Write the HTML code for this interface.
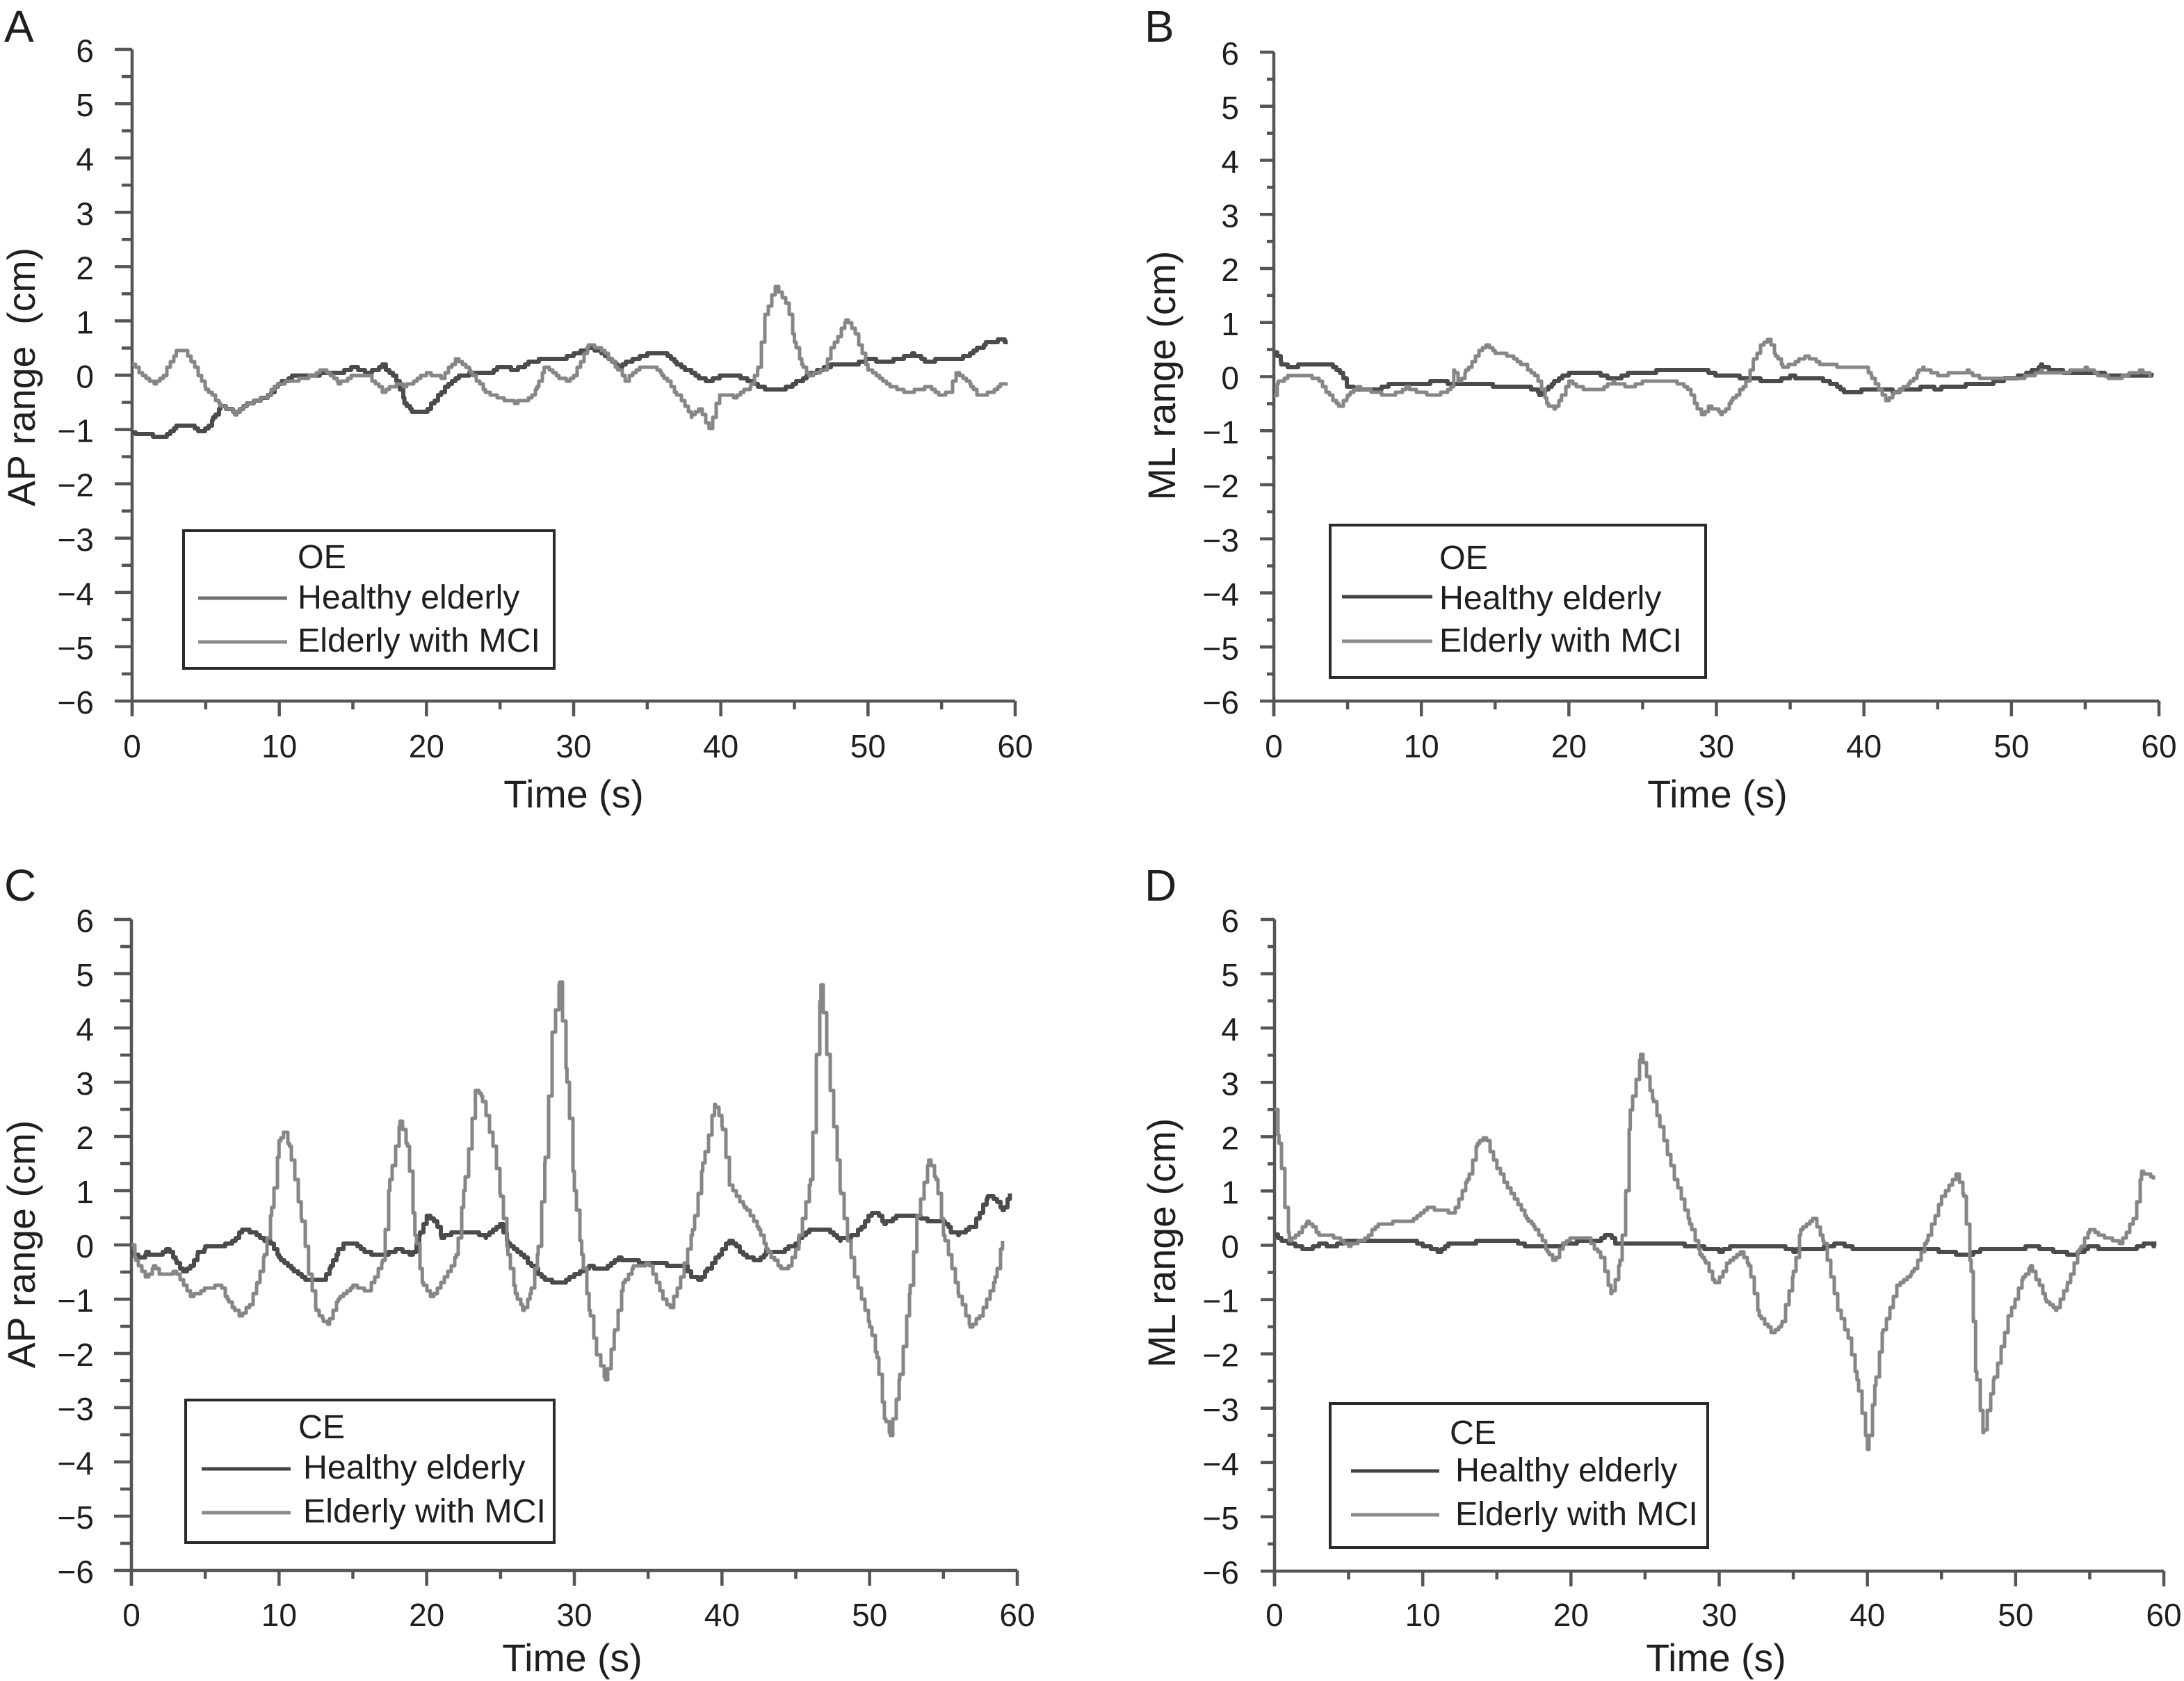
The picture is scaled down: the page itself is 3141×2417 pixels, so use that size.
<!DOCTYPE html>
<html lang="en">
<head>
<meta charset="utf-8">
<title>AP and ML range over time</title>
<style>
html,body{margin:0;padding:0;background:#fff;width:3141px;height:2417px;overflow:hidden}
svg{display:block}
text{font-family:"Liberation Sans",sans-serif;fill:#1f1f1f}
.letter{font-size:64px}
.title{font-size:55.5px;text-anchor:middle}
.leg{font-size:48.3px}
.tick{font-size:46px}
.box{fill:#fff;stroke:#2a2a2a;stroke-width:4}
</style>
</head>
<body>
<svg id="figure" xmlns="http://www.w3.org/2000/svg" width="3141" height="2417" viewBox="0 0 3141 2417">
  <rect width="3141" height="2417" fill="#fff"/>

  <g id="panel-a">
    <text class="letter" x="6" y="60">A</text>
    <text class="title" transform="translate(50,542) rotate(-90)" xml:space="preserve">AP range  (cm)</text>
    <text class="title" x="825" y="1161">Time (s)</text>
    <g>
      <rect class="box" x="264" y="763" width="533" height="198"/>
      <text class="leg" x="428" y="817">OE</text>
      <line x1="285" y1="860" x2="413" y2="860" stroke="#6f6f6f" stroke-width="5"/>
      <text class="leg" x="428" y="875">Healthy elderly</text>
      <line x1="285" y1="923" x2="413" y2="923" stroke="#8a8a8a" stroke-width="5"/>
      <text class="leg" x="428" y="937">Elderly with MCI</text>
    </g>
  </g>

  <g id="panel-b">
    <text class="letter" x="1646" y="60">B</text>
    <text class="title" transform="translate(1690,540) rotate(-90)">ML range (cm)</text>
    <text class="title" x="2470" y="1161">Time (s)</text>
    <g>
      <rect class="box" x="1913" y="755" width="540" height="219"/>
      <text class="leg" x="2070" y="818">OE</text>
      <line x1="1930" y1="858" x2="2060" y2="858" stroke="#444" stroke-width="5"/>
      <text class="leg" x="2070" y="876">Healthy elderly</text>
      <line x1="1930" y1="922" x2="2060" y2="922" stroke="#8a8a8a" stroke-width="5"/>
      <text class="leg" x="2070" y="937">Elderly with MCI</text>
    </g>
  </g>

  <g id="panel-c">
    <text class="letter" x="6" y="1295">C</text>
    <text class="title" transform="translate(50,1789) rotate(-90)">AP range (cm)</text>
    <text class="title" x="823" y="2403">Time (s)</text>
    <g>
      <rect class="box" x="267" y="2013" width="530" height="205"/>
      <text class="leg" x="429" y="2068">CE</text>
      <line x1="290" y1="2112" x2="418" y2="2112" stroke="#444" stroke-width="5"/>
      <text class="leg" x="436" y="2126">Healthy elderly</text>
      <line x1="290" y1="2175" x2="418" y2="2175" stroke="#8a8a8a" stroke-width="5"/>
      <text class="leg" x="436" y="2189">Elderly with MCI</text>
    </g>
  </g>

  <g id="panel-d">
    <text class="letter" x="1646" y="1295">D</text>
    <text class="title" transform="translate(1690,1787) rotate(-90)">ML range (cm)</text>
    <text class="title" x="2468" y="2403">Time (s)</text>
    <g>
      <rect class="box" x="1913" y="2018" width="543" height="207"/>
      <text class="leg" x="2085" y="2076">CE</text>
      <line x1="1943" y1="2115" x2="2070" y2="2115" stroke="#444" stroke-width="5"/>
      <text class="leg" x="2093" y="2130">Healthy elderly</text>
      <line x1="1943" y1="2178" x2="2070" y2="2178" stroke="#8a8a8a" stroke-width="5"/>
      <text class="leg" x="2093" y="2193">Elderly with MCI</text>
    </g>
  </g>
</svg>

<script>
// Tick labels
const yTickValues = [6,5,4,3,2,1,0,-1,-2,-3,-4,-5,-6];
const xTickValues = [0,10,20,30,40,50,60];

// Panel A: AP range, eyes open
const aHealthyTime = [0,1,2,3,4,4.8,5.5,6,7,8,9,10,11,12,13,14,15,16,17,18,18.5,19,20,21,22,23,24,25,26,27,28,29,30,31,32,33,34,35,36,37,38,39,40,41,42,43,44,45,46,47,48,49,50,51,52,53,54,55,56,57,58,59,59.5];
const aHealthyRange = [-1.05,-1.08,-1.15,-0.95,-0.95,-1.05,-0.8,-0.55,-0.7,-0.5,-0.42,-0.15,0,-0.02,0.05,0.05,0.15,0.05,0.18,-0.1,-0.5,-0.65,-0.65,-0.3,-0.05,0.05,0.02,0.15,0.1,0.25,0.3,0.3,0.38,0.5,0.4,0.15,0.3,0.38,0.42,0.2,0.05,-0.12,0,-0.02,-0.12,-0.25,-0.28,-0.15,0.02,0.15,0.2,0.2,0.3,0.25,0.3,0.38,0.25,0.3,0.28,0.4,0.6,0.65,0.62];
const aMciTime = [0,0.5,1.5,2,3,3.5,4,5,6,7,8,9,10,11,12,13,14,15,16,17,18,18.5,19.5,20,21,22,23,24,25,26,27,27.5,28,29,29.5,30,31,32,33,33.5,34.5,35.5,36,37,38,38.5,39,39.2,39.7,40,41,42,42.5,43,43.7,44.5,45,45.5,46,47,47.5,48.5,49,50,51,52,53,54,55,55.5,56,57,57.5,58,59,59.5];
const aMciRange = [0.2,0.05,-0.15,-0.05,0.45,0.48,0.25,-0.25,-0.55,-0.7,-0.5,-0.4,-0.15,-0.1,-0.02,0.1,-0.15,0,0,-0.3,-0.15,-0.2,-0.05,0.05,-0.05,0.3,0.05,-0.3,-0.42,-0.5,-0.42,-0.2,0.15,-0.05,-0.1,0,0.55,0.45,0.1,-0.1,0.15,0.15,0,-0.35,-0.75,-0.6,-0.9,-1,-0.5,-0.35,-0.4,-0.2,0.1,1.1,1.65,1.3,0.6,0.2,0,0.1,0.5,1,0.85,0.1,-0.1,-0.28,-0.3,-0.2,-0.38,-0.3,0.05,-0.2,-0.38,-0.35,-0.18,-0.15];

// Panel B: ML range, eyes open
const bHealthyTime = [0,0.5,1,2,3,4,4.7,5,6,7,8,10,11,12,14,16,17.5,18,19,20,22,23,24,26,28,29,30,31,32,34,35,36,37,38,38.8,40,41,42,44,45,47,48,49,50,51,52,53,55,56,58,59,59.5];
const bHealthyRange = [0.45,0.25,0.15,0.25,0.25,0.2,0,-0.2,-0.25,-0.22,-0.13,-0.13,-0.08,-0.12,-0.15,-0.18,-0.22,-0.32,-0.1,0.08,0.05,-0.05,0.05,0.1,0.1,0.12,0.03,0.02,-0.05,-0.07,0,-0.02,-0.05,-0.15,-0.3,-0.25,-0.22,-0.28,-0.2,-0.22,-0.15,-0.15,-0.08,-0.03,0.05,0.2,0.1,0.08,0.05,0,0.02,0.05];
const bMciTime = [0,0.3,1,2,3,4,4.4,5,5.7,7,8,9,10,11,12,12.2,12.5,13,14,14.4,15,16,17,18,18.5,19,19.5,20,21,22,23,24,25,27,28,28.7,29,29.5,30,30.3,31,32,32.5,33,33.5,34,34.5,35,36,37,38,40,40.5,41,41.5,42,43,43.7,44,45,47,48,49,50,51,52,53,54,55,56,57,58,58.7,59.5];
const bMciRange = [-0.35,-0.1,0.02,0.03,-0.05,-0.45,-0.55,-0.35,-0.2,-0.3,-0.35,-0.2,-0.3,-0.35,-0.2,0.1,-0.1,0.1,0.5,0.6,0.45,0.38,0.2,-0.1,-0.5,-0.6,-0.35,-0.1,-0.25,-0.25,-0.1,-0.2,-0.1,-0.07,-0.2,-0.6,-0.7,-0.55,-0.62,-0.7,-0.45,-0.1,0.3,0.6,0.7,0.4,0.18,0.22,0.38,0.25,0.2,0.18,0,-0.25,-0.45,-0.3,-0.15,0.1,0.15,0.02,0.1,-0.05,-0.05,-0.03,0,0.1,0.05,0.1,0.15,0.02,-0.05,0.05,0.1,0.02];

// Panel C: AP range, eyes closed
const cHealthyTime = [0,0.5,1,1.5,2.5,3,3.5,4,4.5,5,6,7,7.5,8,9,9.5,10,11,12,13,13.5,14,14.5,15,16,17,18,19,19.5,20,20.5,21,22,23,24,25,25.5,26,27,28,29,30,31,32,33,34,35,36,37,37.5,38,38.5,39,40,40.5,41,41.5,42.5,43,44,45,46,47,48,49,50,50.5,51,52,53,54,55,55.5,56,57,58,58.5,59,59.5];
const cHealthyRange = [-0.15,-0.25,-0.15,-0.2,-0.08,-0.3,-0.5,-0.4,-0.15,-0.05,-0.02,0.1,0.28,0.25,0.1,0.02,-0.25,-0.5,-0.65,-0.65,-0.4,-0.1,0.05,0.02,-0.15,-0.18,-0.08,-0.2,0.2,0.55,0.45,0.15,0.25,0.25,0.15,0.38,0.05,-0.1,-0.35,-0.65,-0.7,-0.55,-0.4,-0.45,-0.25,-0.3,-0.35,-0.35,-0.4,-0.4,-0.6,-0.65,-0.45,-0.1,0.1,-0.05,-0.2,-0.3,-0.1,-0.15,0.05,0.3,0.3,0.1,0.2,0.55,0.6,0.4,0.55,0.55,0.45,0.45,0.25,0.2,0.35,0.9,0.85,0.65,0.95];
const cMciTime = [0,0.3,1,1.5,2,3,4,5,6,6.5,7,7.3,8,8.5,9,9.5,10,10.3,10.7,11.5,12,12.5,13,13.3,14,15,16,17,17.5,18.2,18.7,19.2,19.7,20.3,21,22,22.5,23.3,23.7,24.5,25,25.5,26,26.5,27,27.5,28,28.5,29,29.5,30,30.5,31,31.5,32.1,32.7,33.3,34,35,36,36.5,37.2,38,38.7,39.5,40,40.5,41.5,42.5,43,44,44.5,45,46,46.4,46.7,47.1,48,48.5,49,50,50.5,51,51.4,52,52.7,53.2,54,54.5,55,56,56.8,57.5,58.5,59];
const cMciRange = [0,-0.3,-0.6,-0.4,-0.55,-0.5,-0.95,-0.8,-0.75,-1,-1.2,-1.32,-1.1,-0.7,-0.2,0.7,1.9,2.1,1.8,0.5,-0.5,-1.2,-1.4,-1.45,-1,-0.75,-0.85,-0.3,1.2,2.3,1.8,0.2,-0.7,-0.95,-0.7,-0.2,1,2.85,2.75,1.8,0.9,-0.2,-0.9,-1.2,-0.9,-0.2,1.5,3.9,4.85,3,1,-0.2,-1.2,-2,-2.5,-1.6,-0.7,-0.4,-0.35,-1,-1.15,-0.6,0.3,1.5,2.6,2.2,1.1,0.7,0.3,-0.1,-0.45,-0.4,-0.1,1.2,3.5,4.8,3.5,1,0.1,-0.6,-1.5,-2.1,-3.2,-3.5,-2.5,-0.9,0.5,1.55,1.2,0.2,-0.9,-1.5,-1.3,-0.6,0.1];

// Panel D: ML range, eyes closed
const dHealthyTime = [0,0.5,1,2,3,4,5,7,9,10,11,12,13,14,16,17,19,20,22,22.4,23,25,27,29,30,31,33,34,35,36,37,38,39,41,43,45,46,47,48,49,50,51,52,53,54,55,56,57,58,58.7,59.3,59.5];
const dHealthyRange = [0.2,0.1,0.05,-0.08,0.02,-0.02,0.1,0.08,0.1,0,-0.1,0.05,0.02,0.1,0.1,-0.02,-0.02,0.05,0.1,0.2,0.05,0.05,0.03,-0.05,-0.1,-0.02,0,-0.02,-0.1,-0.05,-0.05,0.05,-0.05,-0.05,-0.07,-0.1,-0.15,-0.15,-0.05,-0.08,-0.08,-0.02,-0.08,-0.12,-0.18,0,-0.08,-0.08,-0.05,0.03,0,0.05];
const dMciTime = [0,0.3,0.7,1,1.5,2.2,3,4,5,6,7,8,9,10,10.3,11,12,13,13.7,14.2,15,16,17,17.5,18.4,18.8,19.5,20,21,22,22.7,23.3,23.7,24,24.7,25.5,26,27,28,28.7,29,29.7,30.5,31.5,32,32.7,33.5,34.2,35,35.5,36.3,37,38,38.7,39.3,40,40.5,41,42,43,44,45,46,46.5,47,47.3,47.8,48.5,49.5,50.5,51,52,52.7,53.5,54.3,55,56,57,58,58.5,59,59.3];
const dMciRange = [2.5,1.9,0.7,0.1,0.2,0.42,0.2,0.15,0,0.1,0.4,0.42,0.42,0.6,0.72,0.65,0.6,1.2,1.9,2,1.4,0.95,0.5,0.35,-0.1,-0.3,0.05,0.15,0.15,-0.2,-0.9,-0.3,1,2.5,3.5,2.7,2.2,1.2,0.4,-0.15,-0.3,-0.7,-0.35,-0.1,-0.4,-1.3,-1.6,-1.45,-0.5,0.3,0.5,0.1,-1.2,-1.7,-2.5,-3.75,-2.6,-1.6,-0.75,-0.5,0.1,0.9,1.3,0.9,-0.5,-2.3,-3.45,-2.5,-1.3,-0.6,-0.4,-1,-1.2,-0.7,-0.05,0.28,0.15,0.05,0.5,1.35,1.3,1.2];

const SVG_NS = 'http://www.w3.org/2000/svg';
const STEP_X = 5, STEP_Y = 4;

function makeScale(domainMin, domainMax, pixelMin, pixelMax) {
  return function (v) {
    return pixelMin + (v - domainMin) * (pixelMax - pixelMin) / (domainMax - domainMin);
  };
}

function tickLine(parent, x1, y1, x2, y2, name) {
  const el = document.createElementNS(SVG_NS, 'line');
  el.setAttribute('x1', x1);
  el.setAttribute('y1', y1);
  el.setAttribute('x2', x2);
  el.setAttribute('y2', y2);
  el.setAttribute('stroke', '#555');
  el.setAttribute('stroke-width', 4.5);
  
  
  parent.appendChild(el);
}

function tickText(parent, x, y, anchor, str, name) {
  const el = document.createElementNS(SVG_NS, 'text');
  el.setAttribute('class', 'tick');
  el.setAttribute('x', x);
  el.setAttribute('y', y);
  el.setAttribute('text-anchor', anchor);
  
  
  el.textContent = str;
  parent.appendChild(el);
}

function interpolate(times, values, t) {
  const n = Math.min(times.length, values.length);
  if (t <= times[0]) return values[0];
  for (let i = 1; i < n; i++) {
    if (t <= times[i]) {
      const f = (t - times[i - 1]) / (times[i] - times[i - 1]);
      return values[i - 1] + f * (values[i] - values[i - 1]);
    }
  }
  return values[n - 1];
}

// Samples include every read value, so peaks and troughs are never clipped.
function tracePath(times, values, xScale, yScale) {
  const n = Math.min(times.length, values.length);
  const startX = xScale(times[0]);
  const endX = xScale(times[n - 1]);
  const pxPerSec = xScale(1) - xScale(0);
  const samples = [];
  for (let i = 0; i < n; i++) samples.push(times[i]);
  for (let x = startX + STEP_X; x <= endX; x += STEP_X) {
    samples.push(times[0] + (x - startX) / pxPerSec);
  }
  samples.sort(function (a, b) { return a - b; });
  let d = 'M' + startX.toFixed(1) + ' ' + yScale(values[0]).toFixed(1);
  samples.slice(1).forEach(function (t) {
    const y = Math.round(yScale(interpolate(times, values, t)) / STEP_Y) * STEP_Y;
    d += 'H' + xScale(t).toFixed(1) + 'V' + y;
  });
  return d;
}

function drawSeries(parent, times, values, xScale, yScale, color, width, name) {
  const el = document.createElementNS(SVG_NS, 'path');
  el.setAttribute('d', tracePath(times, values, xScale, yScale));
  el.setAttribute('fill', 'none');
  el.setAttribute('stroke', color);
  el.setAttribute('stroke-width', width);
  el.setAttribute('stroke-linejoin', 'round');
  
  
  parent.appendChild(el);
}

function drawPanel(p) {
  const root = document.getElementById('panel-' + p.id);
  const xScale = makeScale(0, 60, p.x0, p.x60);
  const yScale = makeScale(-6, 6, p.yBottom, p.yTop);
  const axes = document.createElementNS(SVG_NS, 'g');
  
  
  root.insertBefore(axes, root.firstChild);

  tickLine(axes, p.x0, yScale(6), p.x0, yScale(-6) + 22, 'panel-' + p.id + '-y-axis');
  tickLine(axes, p.x0 - p.major, yScale(-6), p.x60, yScale(-6), 'panel-' + p.id + '-x-axis');

  yTickValues.forEach(function (v, i) {
    const y = yScale(v);
    if (v !== -6) tickLine(axes, p.x0 - p.major, y, p.x0, y, 'y-tick');
    if (i < yTickValues.length - 1) {
      const ym = yScale(v - 0.5);
      tickLine(axes, p.x0 - p.minor, ym, p.x0, ym, 'y-minor-tick');
    }
    const label = v < 0 ? '\u2212' + (-v) : String(v);
    tickText(axes, p.yLabelRight, y + 18, 'end', label, 'y-tick-label');
  });

  xTickValues.forEach(function (v, i) {
    const x = xScale(v);
    tickLine(axes, x, yScale(-6), x, yScale(-6) + 22, 'x-tick');
    if (i < xTickValues.length - 1) {
      const xm = xScale(v + 5);
      tickLine(axes, xm, yScale(-6), xm, yScale(-6) + 12, 'x-minor-tick');
    }
    tickText(axes, x, p.xLabelBase, 'middle', String(v), 'x-tick-label');
  });

  drawSeries(root, p.healthyTime, p.healthy, xScale, yScale, '#4b4b4b', 6, 'panel-' + p.id + '-healthy-elderly-line');
  drawSeries(root, p.mciTime, p.mci, xScale, yScale, '#868686', 5, 'panel-' + p.id + '-elderly-mci-line');
}

drawPanel({id:'a', x0:190, x60:1460, yTop:71, yBottom:1008, major:25, minor:15, yLabelRight:135, xLabelBase:1089, healthyTime:aHealthyTime, healthy:aHealthyRange, mciTime:aMciTime, mci:aMciRange});
drawPanel({id:'b', x0:1832, x60:3105, yTop:75, yBottom:1008, major:20, minor:10, yLabelRight:1782, xLabelBase:1089, healthyTime:bHealthyTime, healthy:bHealthyRange, mciTime:bMciTime, mci:bMciRange});
drawPanel({id:'c', x0:189, x60:1463, yTop:1322, yBottom:2258, major:25, minor:16, yLabelRight:135, xLabelBase:2338, healthyTime:cHealthyTime, healthy:cHealthyRange, mciTime:cMciTime, mci:cMciRange});
drawPanel({id:'d', x0:1833, x60:3112, yTop:1322, yBottom:2259, major:20, minor:10, yLabelRight:1782, xLabelBase:2338, healthyTime:dHealthyTime, healthy:dHealthyRange, mciTime:dMciTime, mci:dMciRange});
</script>
</body>
</html>
